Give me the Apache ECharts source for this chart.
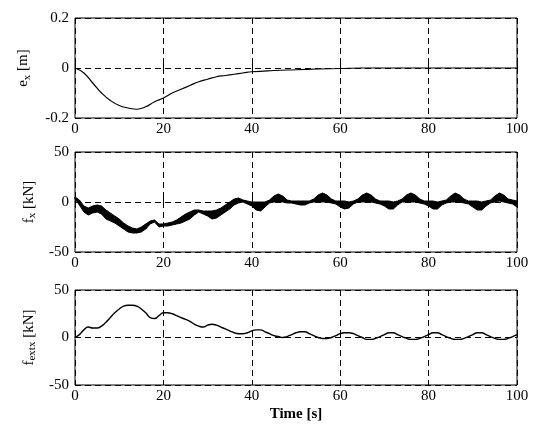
<!DOCTYPE html>
<html><head><meta charset="utf-8">
<script src="https://cdn.jsdelivr.net/npm/echarts@6/dist/echarts.min.js"></script>
<style>html,body{margin:0;background:#fff}#c{width:543px;height:432px}</style></head>
<body><div id="c"></div>
<script>
const timeEx = [0,2,4,6,8,10,12,14,16,18,20,22,24,26,28,30,32,34,36,38,40,45,50,55,60,65,70,75,80,85,90,95,100];
const ex = [0,-0.02,-0.06,-0.1,-0.13,-0.15,-0.16,-0.165,-0.155,-0.135,-0.12,-0.1,-0.085,-0.07,-0.055,-0.045,-0.035,-0.03,-0.025,-0.02,-0.015,-0.01,-0.007,-0.004,-0.002,0,0,0,0,0,0,0,0];
const fxUpper = [5,2,-4,-6,-4,-3,-4,-8,-11,-14,-17,-21,-24,-26,-27,-25,-22,-19,-18,-22,-22,-21,-20,-18,-15,-12,-10,-8,-8,-9,-9,-9,-8,-6,-3,0,3,4,2,1,0,
0,0,0,2,6,8,6,2,1,1,1,1,1,3,7,9,7,3,1,1,1,0,1,3,7,9,7,3,1,1,1,0,1,3,7,9,7,3,1,1,1,0,1,2,6,9,7,3,1,1,1,0,1,2,6,9,7,3,2,1];
const fxLower = [3,-3,-10,-13,-11,-10,-12,-17,-19,-21,-24,-27,-30,-31,-31,-30,-27,-22,-20,-25,-24,-24,-23,-22,-21,-19,-17,-13,-10,-12,-14,-17,-16,-13,-10,-7,-3,-1,0,-2,-4,
-8,-9,-5,-1,0,0,0,-1,-1,-2,-3,-3,-1,0,0,0,0,-1,-2,-5,-7,-6,-2,0,0,0,0,-1,-2,-4,-7,-7,-3,0,0,0,0,-1,-2,-4,-7,-7,-3,-1,0,0,0,-1,-2,-5,-8,-8,-4,-1,0,1,0,-1,-2,-5];
const fext = [0,3,8,11,10,10,12,16,21,26,30,33,34,34,33,30,26,21,20,23,26,26,25,23,21,19,17,14,12,11,13,14,13,11,9,7,5,4,4,5,7,8,8,6,4,2,1,0,1,3,5,6,6,4,2,0,-1,-1,0,2,4,5,5,4,2,0,-2,-2,-1,1,3,5,5,3,1,-1,-2,-2,-1,1,3,5,5,3,1,-1,-2,-2,-1,1,3,5,5,3,1,-1,-2,-2,-1,1,3];

const t1 = fxUpper.map((_,i)=>i);
const F = 'Liberation Serif';
const ch = echarts.init(document.getElementById('c'));
const tops=[18,152,290], hs=[100,100,95];
const grids = tops.map((t,i)=>({left:75,right:26,top:t,height:hs[i],show:true,borderColor:'#000',borderWidth:1,backgroundColor:'transparent'}));
const xAxes = tops.map((t,i)=>({type:'value',gridIndex:i,min:0,max:100,interval:20,
  axisLine:{show:false},axisTick:{inside:true,length:4,lineStyle:{color:'#000'}},
  axisLabel:{color:'#000',fontFamily:F,fontSize:15,margin:4},
  splitLine:{show:true,lineStyle:{color:'#000',type:[6,4],width:1}},
  name:i===2?'Time [s]':'',nameLocation:'middle',nameGap:22,nameTextStyle:{color:'#000',fontFamily:F,fontSize:15,fontWeight:'bold'}}));
const yCfg = [[-0.2,0.2,0.2,'{a|e}{s|x}{a| [m]}'],[-50,50,50,'{a|f}{s|x}{a| [kN]}'],[-50,50,50,'{a|f}{s|extx}{a| [kN]}']];
const yAxes = yCfg.map((c,i)=>({type:'value',gridIndex:i,min:c[0],max:c[1],interval:c[2],
  axisLine:{show:false},axisTick:{inside:true,length:4,lineStyle:{color:'#000'}},
  axisLabel:{color:'#000',fontFamily:F,fontSize:15,margin:6},
  splitLine:{show:true,lineStyle:{color:'#000',type:[6,4],width:1}},
  name:c[3],nameLocation:'middle',nameGap:i===0?42:34,nameRotate:90,
  nameTextStyle:{rich:{a:{fontFamily:F,fontSize:15,color:'#000'},s:{fontFamily:F,fontSize:11,color:'#000',padding:[8,0,0,0]}}}}));
const bandData = t1.slice(0,-1).map(t=>[t,fxLower[t],fxUpper[t],fxLower[t+1],fxUpper[t+1]]);
ch.setOption({animation:false,grid:grids,xAxis:xAxes,yAxis:yAxes,series:[
 {type:'line',xAxisIndex:0,yAxisIndex:0,showSymbol:false,smooth:true,data:timeEx.map((t,i)=>[t,ex[i]]),lineStyle:{color:'#000',width:1.2}},
 {type:'custom',xAxisIndex:1,yAxisIndex:1,data:bandData,encode:{x:0,y:[1,2]},
  renderItem:(params,api)=>{
    const t=api.value(0);
    const p=[api.coord([t,api.value(1)]),api.coord([t+1,api.value(3)]),api.coord([t+1,api.value(4)]),api.coord([t,api.value(2)])];
    return {type:'polygon',shape:{points:p},style:{fill:'#000',stroke:'#000',lineWidth:1}};
  }},
 {type:'line',xAxisIndex:2,yAxisIndex:2,showSymbol:false,smooth:true,data:t1.map(t=>[t,fext[t]]),lineStyle:{color:'#000',width:1.4}}
]});
</script></body></html>
